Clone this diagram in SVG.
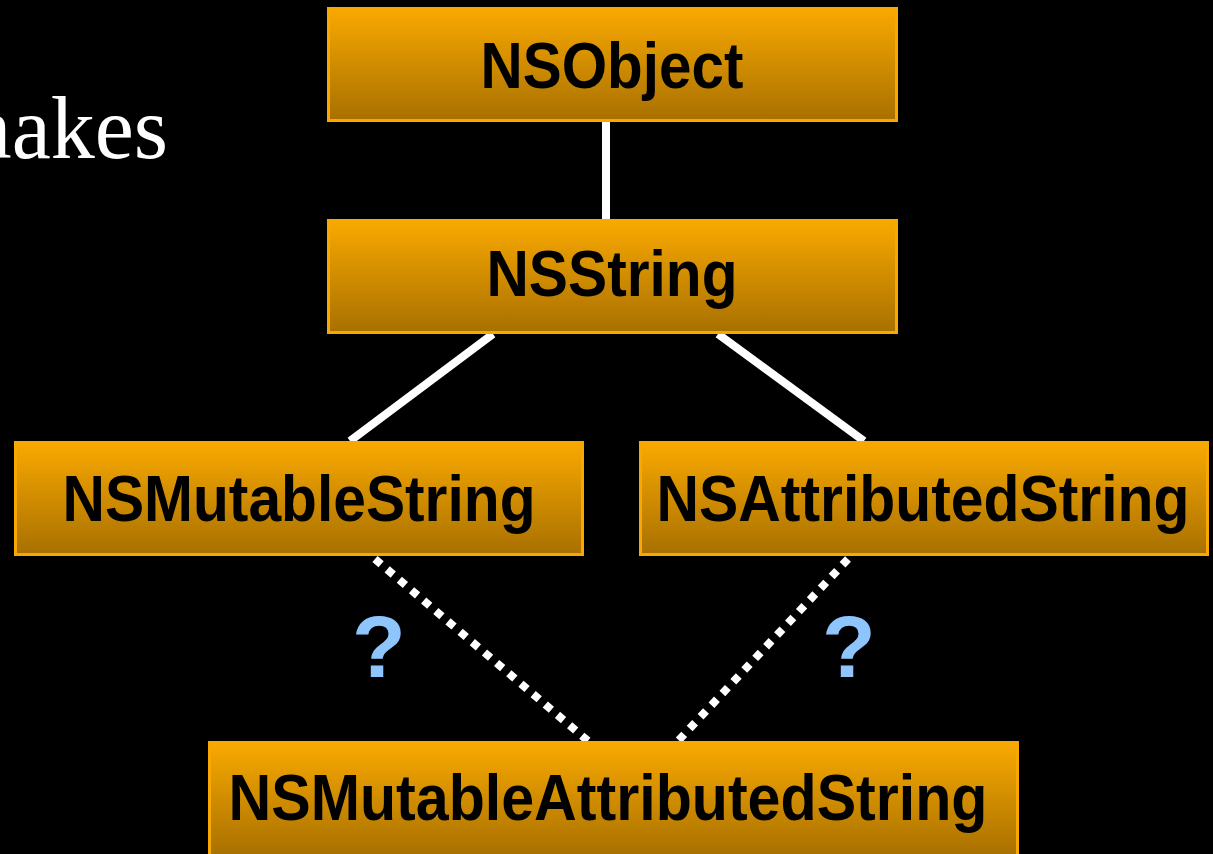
<svg xmlns="http://www.w3.org/2000/svg" width="1213" height="854" viewBox="0 0 1213 854">
<style>
.box{fill:url(#g);stroke:#f8a800;stroke-width:3}
.lbl{font-family:"Liberation Sans",Arial,sans-serif;font-weight:bold;font-size:65px;fill:#000;text-anchor:middle}
.solid{stroke:#fff;stroke-width:8;fill:none}
.dot{stroke:#fff;stroke-width:8;fill:none;stroke-dasharray:8 8}
.q{font-family:"Liberation Sans",Arial,sans-serif;font-weight:bold;font-size:88px;fill:#8ec5fd;text-anchor:middle}
</style>
<defs>
<linearGradient id="g" x1="0" y1="0" x2="0" y2="1">
<stop offset="0" stop-color="#f9a900"/>
<stop offset="1" stop-color="#a87000"/>
</linearGradient>
</defs>
<rect width="1213" height="854" fill="#000"/>
<text x="168" y="158" font-family="'Liberation Serif','Times New Roman',serif" font-size="88" fill="#fff" text-anchor="end">makes</text>
<g id="connectors">
<line class="solid" x1="606" y1="122" x2="606" y2="219" stroke-width="10"/>
<line class="solid" x1="493" y1="334" x2="350" y2="441"/>
<line class="solid" x1="718" y1="334" x2="864" y2="441"/>
<line class="dot" x1="375" y1="559" x2="588" y2="741"/>
<line class="dot" x1="848" y1="559" x2="678" y2="741"/>
<text class="q" x="379" y="677">?</text>
<text class="q" x="849" y="677">?</text>
</g>
<g id="NSObject"><rect class="box" x="328.5" y="8.5" width="568" height="112"/><text class="lbl" x="612" y="88" textLength="263" lengthAdjust="spacingAndGlyphs">NSObject</text></g>
<g id="NSString"><rect class="box" x="328.5" y="220.5" width="568" height="112"/><text class="lbl" x="612" y="296" textLength="251" lengthAdjust="spacingAndGlyphs">NSString</text></g>
<g id="NSMutableString"><rect class="box" x="15.5" y="442.5" width="567" height="112"/><text class="lbl" x="299" y="521" textLength="473" lengthAdjust="spacingAndGlyphs">NSMutableString</text></g>
<g id="NSAttributedString"><rect class="box" x="640.5" y="442.5" width="567" height="112"/><text class="lbl" x="923" y="521" textLength="533" lengthAdjust="spacingAndGlyphs">NSAttributedString</text></g>
<g id="NSMutableAttributedString"><rect class="box" x="209.5" y="742.5" width="808" height="114"/><text class="lbl" x="608" y="820" textLength="759" lengthAdjust="spacingAndGlyphs">NSMutableAttributedString</text></g>
</svg>
